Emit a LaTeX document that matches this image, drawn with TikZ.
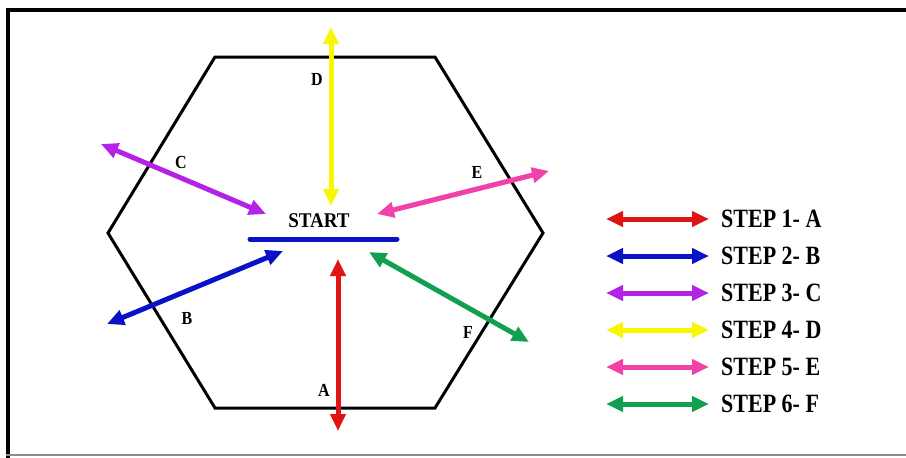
\documentclass[tikz,border=0pt]{standalone}
\usepackage{fontspec}
\setmainfont{Liberation Serif}
\usetikzlibrary{arrows.meta}
\definecolor{cA}{HTML}{E01414}
\definecolor{cB}{HTML}{0A12C8}
\definecolor{cC}{HTML}{B422E6}
\definecolor{cD}{HTML}{FAF500}
\definecolor{cE}{HTML}{F042A8}
\definecolor{cF}{HTML}{12A050}
\newcommand{\tall}[2]{\scalebox{1}[#1]{#2}}
\tikzset{
  dbl/.style={line width=5pt, {Triangle[length=17pt,width=15pt]}-{Triangle[length=17pt,width=15pt]}, draw=#1},
  lbl/.style={font=\fontsize{16pt}{16pt}\selectfont\bfseries, inner sep=0pt},
  legtxt/.style={font=\fontsize{22pt}{22pt}\selectfont\bfseries, inner sep=0pt, anchor=west},
  hexline/.style={line width=3pt, line join=miter}
}
\begin{document}
\begin{tikzpicture}[x=1pt,y=-1pt]
\useasboundingbox (0,0) rectangle (906,458);
% frame
\draw[line width=4pt] (8,458) -- (8,10) -- (906,10);
\draw[line width=1.2pt, black!45] (6,455) -- (906,455);
% hexagon
\coordinate (h1) at (215,57);
\coordinate (h2) at (435,57);
\coordinate (h3) at (543,233);
\coordinate (h4) at (435,408);
\coordinate (h5) at (215,408);
\coordinate (h6) at (108,233);
\draw[hexline] (h1) -- (h2) -- (h3) -- (h4) -- (h5) -- (h6) -- cycle;
% start
\node[font=\fontsize{19pt}{19pt}\selectfont\bfseries, inner sep=0pt] (start) at (319,221) {\tall{1.1}{START}};
\coordinate (barL) at (250,239);
\coordinate (barR) at (397,239);
\draw[line width=5pt, cB, line cap=round] (barL) -- (barR);
% arrows
\coordinate (a1) at (338,259); \coordinate (a2) at (338,431);
\draw[dbl=cA] (a1) -- (a2);
\coordinate (b1) at (107,324); \coordinate (b2) at (283,251);
\draw[dbl=cB] (b1) -- (b2);
\coordinate (c1) at (101,144); \coordinate (c2) at (266,214);
\draw[dbl=cC] (c1) -- (c2);
\coordinate (d1) at (331,27); \coordinate (d2) at (331,206);
\draw[dbl=cD] (d1) -- (d2);
\coordinate (e1) at (377,214); \coordinate (e2) at (549,171);
\draw[dbl=cE] (e1) -- (e2);
\coordinate (f1) at (369,252); \coordinate (f2) at (529,342);
\draw[dbl=cF] (f1) -- (f2);
% labels
\node[lbl] (lA) at (324,390) {\tall{1.15}{A}};
\node[lbl] (lB) at (187,318) {\tall{1.15}{B}};
\node[lbl] (lC) at (181,162) {\tall{1.15}{C}};
\node[lbl] (lD) at (317,79) {\tall{1.15}{D}};
\node[lbl] (lE) at (477,172) {\tall{1.15}{E}};
\node[lbl] (lF) at (468,332) {\tall{1.15}{F}};
% legend
\foreach \i/\c/\t [count=\k from 0] in {1/cA/A,2/cB/B,3/cC/C,4/cD/D,5/cE/E,6/cF/F}{
  \coordinate (s\i) at (606,{219+37*\k});
  \coordinate (e\i) at (709,{219+37*\k});
  \draw[dbl=\c] (s\i) -- (e\i);
  \node[legtxt] (t\i) at (721,{219+37*\k}) {\tall{1.2}{STEP \i- \t}};
}
\end{tikzpicture}
\end{document}
